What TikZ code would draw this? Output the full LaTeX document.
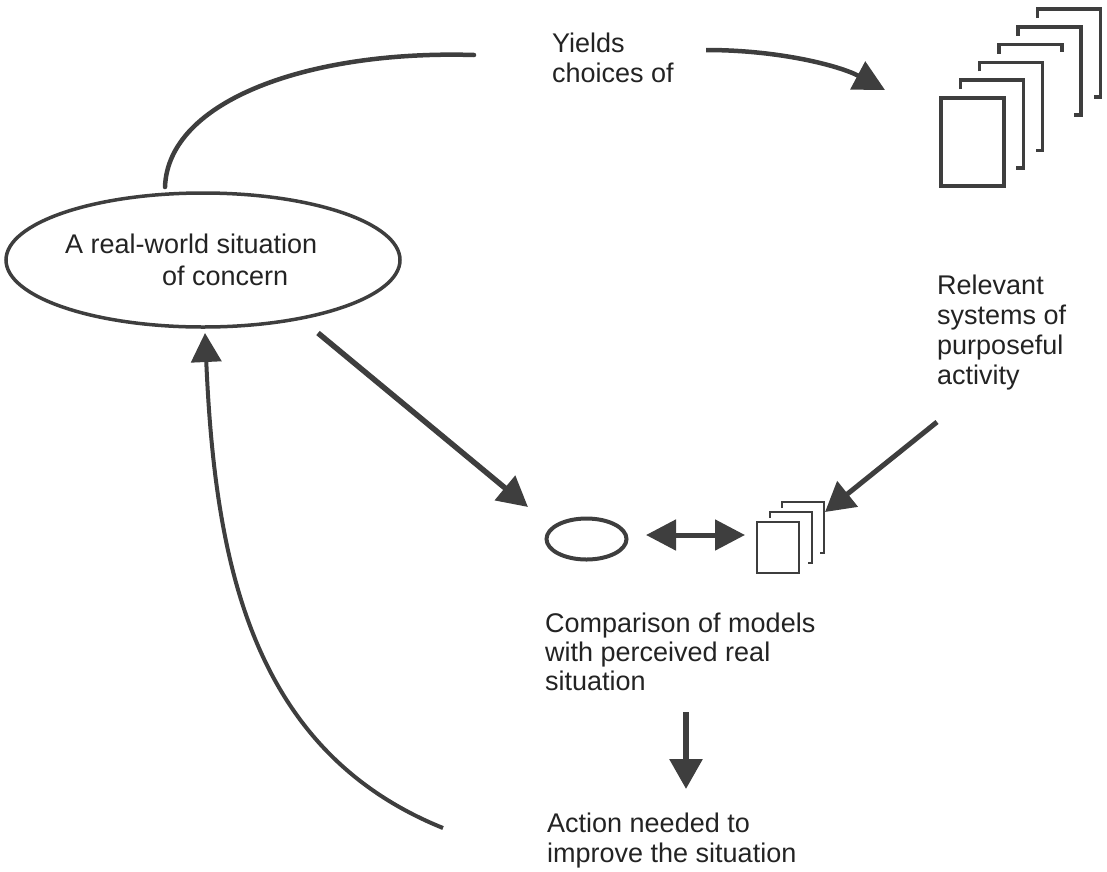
\documentclass[tikz,border=0pt]{standalone}
\usepackage{fontspec}
\setmainfont{Liberation Sans}
\usetikzlibrary{arrows.meta,shapes.geometric}
\definecolor{lc}{RGB}{62,62,62}
\definecolor{tc}{RGB}{35,35,35}
\tikzset{
  lbl/.style={anchor=base west, inner sep=0pt, align=left, text=tc,
    font=\fontsize{27}{30}\selectfont},
  conn/.style={draw=lc, line width=4.5pt},
  pagefront/.style={draw=lc, rectangle, inner sep=0pt},
}
\begin{document}
\begin{tikzpicture}[x=1pt,y=-1pt]
\useasboundingbox (0,0) rectangle (1107,871);

% big ellipse
\node[ellipse, draw=lc, line width=3.5pt, minimum width=394pt, minimum height=134pt, inner sep=0pt] (ell) at (203,260) {};
\node[lbl] (elltext) at (65,285) {A real-world situation\\[2pt]\hspace*{97pt}of concern};

% texts (anchor = baseline of the last line)
\node[lbl] (yields) at (552,82) {Yields\\choices of};
\node[lbl] (relevant) at (937,384) {Relevant\\systems of\\purposeful\\activity};
\node[lbl] (compar) at (545,690) {Comparison of models\\[-1pt]with perceived real\\[-1pt]situation};
\node[lbl] (action) at (547,862) {Action needed to\\improve the situation};

% big document stack
\node[pagefront, line width=3.5pt, minimum width=63pt, minimum height=88pt] (docs) at (972.5,142) {};
\foreach \i in {1,2,4,5} {
  \pgfmathsetmacro{\L}{941+19.3*\i}
  \pgfmathsetmacro{\T}{98-17.8*\i}
  \pgfmathsetmacro{\R}{1004+19.3*\i}
  \pgfmathsetmacro{\B}{186-17.8*\i}
  \draw[lc, line width=3.5pt] (\L,\T+9) -- (\L,\T) -- (\R,\T) -- (\R,\B) -- (\R-7,\B);
}
\draw[lc, line width=3.5pt] (998.9,53.6) -- (998.9,44.6) -- (1061.9,44.6) -- (1061.9,52);

% small comparison figure
\node[ellipse, draw=lc, line width=4pt, minimum width=80pt, minimum height=41pt, inner sep=0pt] (sell) at (586.5,539) {};
\node[pagefront, line width=2pt, minimum width=42pt, minimum height=51pt] (sdocs) at (778,547.5) {};
\foreach \i in {1,2} {
  \pgfmathsetmacro{\L}{757+12.6*\i}
  \pgfmathsetmacro{\T}{522-10*\i}
  \pgfmathsetmacro{\R}{799+12.6*\i}
  \pgfmathsetmacro{\B}{573-10*\i}
  \draw[lc, line width=2pt] (\L,\T+6) -- (\L,\T) -- (\R,\T) -- (\R,\B) -- (\R-4,\B);
}

% coordinates for connector ends
\coordinate (arcS) at (165,187);
\coordinate (arcE) at (474,55);
\coordinate (yS) at (706,50);
\coordinate (yE) at (885,90);
\coordinate (dS) at (318,333);
\coordinate (dE) at (528,507);
\coordinate (rS) at (937,422);
\coordinate (rE) at (825,512);
\coordinate (cS) at (646,535);
\coordinate (cE) at (745,535);
\coordinate (aS) at (686,712);
\coordinate (aE) at (686,789);
\coordinate (bS) at (443,828);
\coordinate (bE) at (205,333);

% connectors
\draw[conn, line cap=round] (arcS) .. controls (168,100) and (310,50) .. (arcE);
\draw[conn, -{Triangle[length=31pt,width=31pt]}] (yS) .. controls (780,50) and (840,66) .. (yE);
\draw[conn, line width=5.5pt, -{Triangle[length=30pt,width=31pt]}] (dS) -- (dE);
\draw[conn, line width=5pt, -{Triangle[length=29pt,width=32pt]}] (rS) -- (rE);
\draw[conn, line width=5pt, {Triangle[length=30pt,width=30pt]}-{Triangle[length=30pt,width=30pt]}] (cS) -- (cE);
\draw[conn, line width=6pt, -{Triangle[length=30pt,width=32pt]}] (aS) -- (aE);
\draw[conn, line width=4pt, -{Triangle[length=29pt,width=30pt]}] (bS) .. controls (250,750) and (215,560) .. (bE);
\end{tikzpicture}
\end{document}
